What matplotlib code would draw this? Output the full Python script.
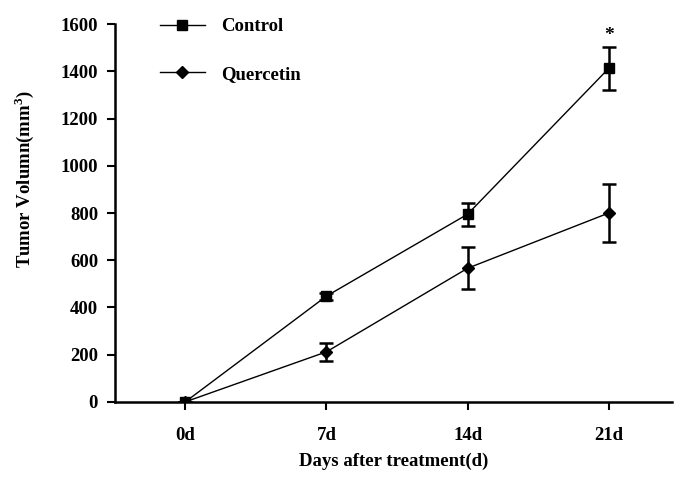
import numpy as np
import matplotlib
matplotlib.use('Agg')
import matplotlib.pyplot as plt
from matplotlib.lines import Line2D

# data
days = ['0d', '7d', '14d', '21d']
control = [0, 448, 795, 1413]
control_err = [0, 15, 48, 92]
quercetin = [0, 212, 566, 800]
quercetin_err = [0, 38, 88, 122]

plt.rcParams['font.family'] = ['Liberation Serif', 'DejaVu Serif']
plt.rcParams['font.weight'] = 'bold'
plt.rcParams['mathtext.fontset'] = 'custom'
plt.rcParams['mathtext.rm'] = 'Liberation Serif:bold'
plt.rcParams['mathtext.bf'] = 'Liberation Serif:bold'

fig = plt.figure(figsize=(6.75, 4.83), dpi=100)
ax = fig.add_axes([0.170, 0.168, 0.826, 0.782])

x = np.arange(len(days))

ax.errorbar(x, control, yerr=control_err, color='black', lw=1.0,
            marker='s', markersize=7, elinewidth=1.8, capsize=5, capthick=1.8)
ax.errorbar(x, quercetin, yerr=quercetin_err, color='black', lw=1.0,
            marker='D', markersize=6, elinewidth=1.8, capsize=5, capthick=1.8)

# significance mark
ax.text(x[-1], control[-1] + control_err[-1] + 10, '*', ha='center', va='bottom',
        fontsize=14, fontweight='bold', clip_on=False)

ax.set_xlim(-0.5, 3.45)
ax.set_ylim(0, 1600)
ax.set_xticks(x)
ax.set_xticklabels(days)
ax.set_yticks(np.arange(0, 1601, 200))

ax.spines['top'].set_visible(False)
ax.spines['right'].set_visible(False)
ax.spines['left'].set_linewidth(1.8)
ax.spines['bottom'].set_linewidth(1.8)
ax.tick_params(axis='y', direction='out', length=6, width=1.5, labelsize=13.5, pad=6)
ax.tick_params(axis='x', direction='out', length=6, width=1.5, labelsize=13.5, pad=12)

ax.set_xlabel('Days after treatment(d)', fontsize=13.5, fontweight='bold', labelpad=6)
ax.set_ylabel(r'Tumor Volumn(mm$^{3}$)', fontsize=13.5, fontweight='bold')
ax.yaxis.set_label_coords(-0.142, 0.59)

handles = [Line2D([], [], color='black', lw=1.0, marker='s', markersize=7),
           Line2D([], [], color='black', lw=1.0, marker='D', markersize=6)]
ax.legend(handles, ['Control', 'Quercetin'], loc='upper left',
          bbox_to_anchor=(0.05, 1.06), frameon=False,
          handlelength=2.4, labelspacing=1.6, fontsize=13.5, handletextpad=0.9)

fig.savefig('out.png', dpi=100)
